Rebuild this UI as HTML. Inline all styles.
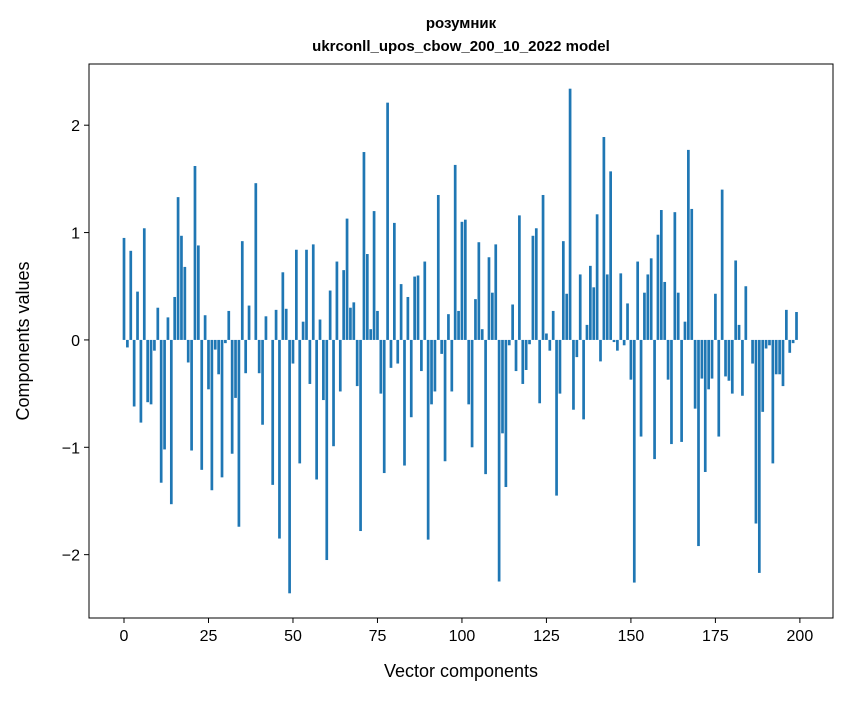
<!DOCTYPE html>
<html><head><meta charset="utf-8">
<style>
body{margin:0;background:#fff;}
svg text{font-family:"Liberation Sans","DejaVu Sans",sans-serif;fill:#000;}
</style></head>
<body>
<svg width="847" height="696" viewBox="0 0 847 696">
<text x="461" y="28" text-anchor="middle" font-size="15" font-weight="bold">розумник</text>
<text x="461" y="51" text-anchor="middle" font-size="15" font-weight="bold">ukrconll_upos_cbow_200_10_2022 model</text>
<g id="bars"></g>
<g id="xt"></g>
<g id="yt"></g>
<rect x="89" y="64" width="744" height="554" fill="none" stroke="#000" stroke-width="1"/>
<text x="461" y="677" text-anchor="middle" font-size="18">Vector components</text>
<text transform="translate(29,341) rotate(-90)" text-anchor="middle" font-size="18">Components values</text>
</svg>
<script>
const values=[0.95,-0.07,0.83,-0.62,0.45,-0.77,1.04,-0.58,-0.6,-0.1,0.3,-1.33,-1.02,0.21,-1.53,0.4,1.33,0.97,0.68,-0.21,-1.03,1.62,0.88,-1.21,0.23,-0.46,-1.4,-0.09,-0.32,-1.28,-0.03,0.27,-1.06,-0.54,-1.74,0.92,-0.31,0.32,0.0,1.46,-0.31,-0.79,0.22,0,-1.35,0.28,-1.85,0.63,0.29,-2.36,-0.22,0.84,-1.15,0.17,0.84,-0.41,0.89,-1.3,0.19,-0.56,-2.05,0.46,-0.99,0.73,-0.48,0.65,1.13,0.3,0.35,-0.43,-1.78,1.75,0.8,0.1,1.2,0.27,-0.5,-1.24,2.21,-0.26,1.09,-0.22,0.52,-1.17,0.4,-0.72,0.59,0.6,-0.29,0.73,-1.86,-0.6,-0.48,1.35,-0.13,-1.13,0.24,-0.48,1.63,0.27,1.1,1.12,-0.6,-1.0,0.38,0.91,0.1,-1.25,0.77,0.44,0.89,-2.25,-0.87,-1.37,-0.05,0.33,-0.29,1.16,-0.41,-0.28,-0.04,0.97,1.04,-0.59,1.35,0.06,-0.1,0.27,-1.45,-0.5,0.92,0.43,2.34,-0.65,-0.16,0.61,-0.74,0.14,0.69,0.49,1.17,-0.2,1.89,0.61,1.57,-0.02,-0.1,0.62,-0.05,0.34,-0.37,-2.26,0.73,-0.9,0.44,0.61,0.76,-1.11,0.98,1.21,0.54,-0.37,-0.97,1.19,0.44,-0.95,0.17,1.77,1.22,-0.64,-1.92,-0.36,-1.23,-0.46,-0.36,0.43,-0.9,1.4,-0.34,-0.38,-0.5,0.74,0.14,-0.52,0.5,0,-0.22,-1.71,-2.17,-0.67,-0.08,-0.05,-1.15,-0.32,-0.32,-0.43,0.28,-0.12,-0.03,0.26];
const xTicks=[0,25,50,75,100,125,150,175,200];
const yTicks=[-2,-1,0,1,2];
const yTickLabels=["\u22122","\u22121","0","1","2"];
const NS="http://www.w3.org/2000/svg";
const L=89,R=833,T=64,B=618;
const x0=-10.36,x1=209.8,y0=-2.59,y1=2.57;
const xs=v=>L+(v-x0)/(x1-x0)*(R-L);
const ys=v=>B-(v-y0)/(y1-y0)*(B-T);
function mk(tag,attrs,parent){const e=document.createElementNS(NS,tag);for(const k in attrs)e.setAttribute(k,attrs[k]);parent.appendChild(e);return e;}
const gb=document.getElementById('bars');
values.forEach((v,i)=>{
  const xa=xs(i-0.4),xb=xs(i+0.4);
  const ya=ys(Math.max(v,0)),yb=ys(Math.min(v,0));
  const r=mk('rect',{x:xa,y:ya,width:xb-xa,height:Math.max(yb-ya,0),fill:'#1f77b4'},gb);
  
  
});
const gx=document.getElementById('xt');
xTicks.forEach(t=>{
  const X=xs(t);
  const l=mk('line',{x1:X,x2:X,y1:B,y2:B+5,stroke:'#000','stroke-width':1},gx);
  
  
  const tx=mk('text',{x:X,y:B+23,'text-anchor':'middle','font-size':'16'},gx);
  tx.textContent=t;
  
  
});
const gy=document.getElementById('yt');
yTicks.forEach((t,i)=>{
  const Y=ys(t);
  const l=mk('line',{x1:L-5,x2:L,y1:Y,y2:Y,stroke:'#000','stroke-width':1},gy);
  
  
  const tx=mk('text',{x:L-9,y:Y+6,'text-anchor':'end','font-size':'16'},gy);
  tx.textContent=yTickLabels[i];
  
  
});
</script>
</body></html>
